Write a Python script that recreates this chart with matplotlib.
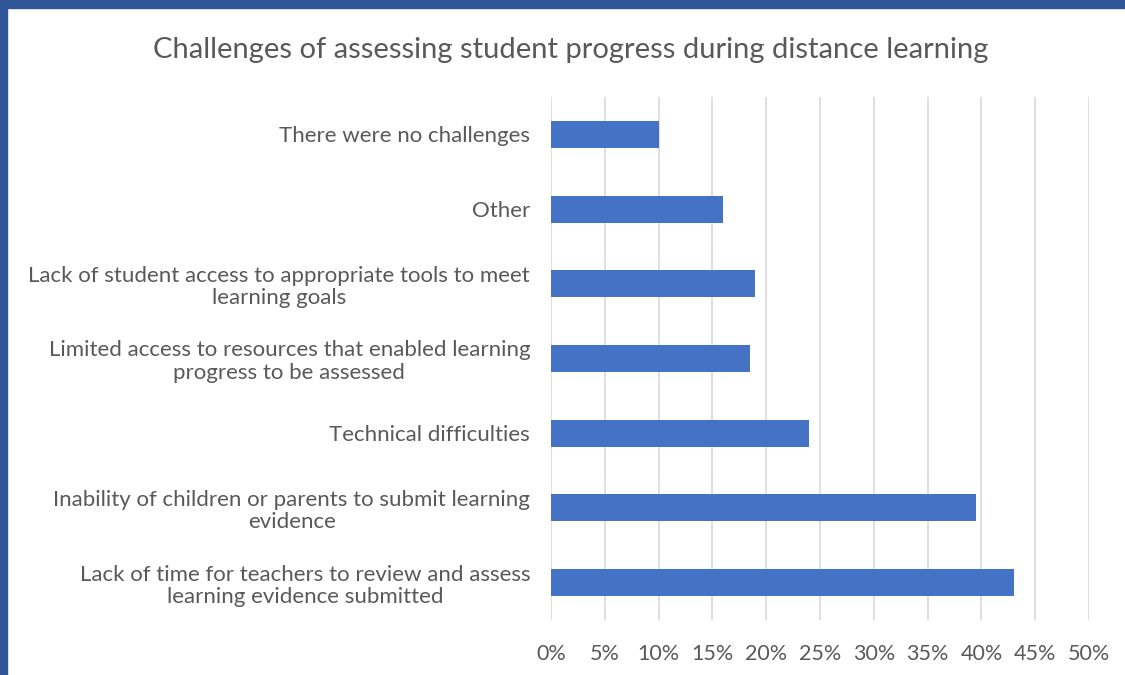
import matplotlib.pyplot as plt
from matplotlib.ticker import FuncFormatter
from matplotlib.patches import Rectangle

plt.rcParams['font.family'] = ['Lato', 'DejaVu Sans']

# data (bottom to top, as drawn)
categories = [
    "Lack of time for teachers to review and assess\nlearning evidence submitted",
    "Inability of children or parents to submit learning\nevidence",
    "Technical difficulties",
    "Limited access to resources that enabled learning\nprogress to be assessed",
    "Lack of student access to appropriate tools to meet\nlearning goals",
    "Other",
    "There were no challenges",
]
values = [43, 39.5, 24, 18.5, 19, 16, 10]
xticks = list(range(0, 55, 5))

text_color = '#595959'
bar_color = '#4472C4'
grid_color = '#D9D9D9'
frame_color = '#2E5597'

fig = plt.figure(figsize=(11.25, 6.75), dpi=100)
ax = fig.add_axes([0.4898, 0.0815, 0.968 - 0.4898, 0.8563 - 0.0815])

ax.barh(range(len(categories)), values, height=0.36, color=bar_color, zorder=3)

ax.set_xlim(0, 50)
ax.set_ylim(-0.5, len(categories) - 0.5)
ax.set_xticks(xticks)
ax.xaxis.set_major_formatter(FuncFormatter(lambda v, p: f"{v:.0f}%"))
ax.set_yticks(range(len(categories)))
ax.set_yticklabels(categories, multialignment='center', linespacing=1.15)

ax.grid(axis='x', color=grid_color, linewidth=1.2, zorder=0)
for s in ax.spines.values():
    s.set_visible(False)
ax.tick_params(axis='both', length=0, colors=text_color)
ax.tick_params(axis='y', pad=15, labelsize=16)
ax.tick_params(axis='x', pad=17, labelsize=15.5)

fig.text(0.507, 0.926, "Challenges of assessing student progress during distance learning",
         ha='center', va='center', fontsize=21, color=text_color)

# blue frame on top and left
fig.add_artist(Rectangle((0, 1 - 8 / 675), 1, 8 / 675, transform=fig.transFigure,
                         color=frame_color, zorder=10))
fig.add_artist(Rectangle((0, 0), 7 / 1125, 1, transform=fig.transFigure,
                         color=frame_color, zorder=10))

fig.savefig('out.png', dpi=100)
